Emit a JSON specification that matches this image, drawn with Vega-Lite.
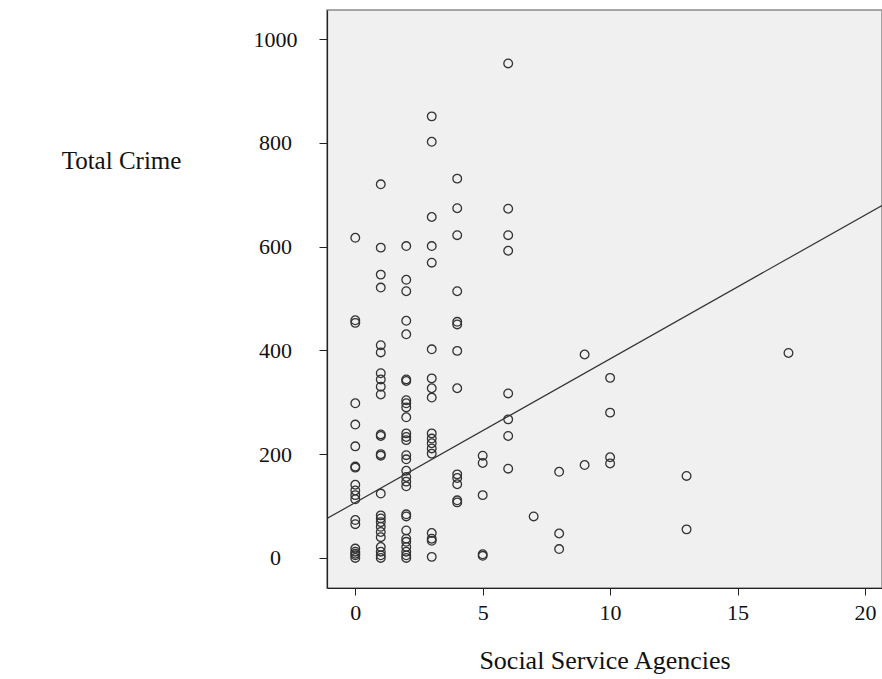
{
  "$schema": "https://vega.github.io/schema/vega-lite/v6.json",
  "autosize": {"type": "none"},
  "padding": {"left": 327, "top": 10, "right": 0, "bottom": 91},
  "width": 555,
  "height": 578,
  "background": "white",
  "config": {
    "view": {"fill": "#f0f0f0", "stroke": "#8a8a8a", "strokeWidth": 1.5},
    "font": "Liberation Serif"
  },
  "layer": [
    {
      "data": {"values": [
        {"agencies": 0, "crime": 617}, {"agencies": 0, "crime": 458}, {"agencies": 0, "crime": 453}, {"agencies": 0, "crime": 298}, {"agencies": 0, "crime": 257}, {"agencies": 0, "crime": 215}, {"agencies": 0, "crime": 176}, {"agencies": 0, "crime": 174}, {"agencies": 0, "crime": 141}, {"agencies": 0, "crime": 130}, {"agencies": 0, "crime": 121}, {"agencies": 0, "crime": 113}, {"agencies": 0, "crime": 73}, {"agencies": 0, "crime": 65}, {"agencies": 0, "crime": 18}, {"agencies": 0, "crime": 12}, {"agencies": 0, "crime": 8}, {"agencies": 0, "crime": 5}, {"agencies": 0, "crime": 0},
        {"agencies": 1, "crime": 720}, {"agencies": 1, "crime": 598}, {"agencies": 1, "crime": 546}, {"agencies": 1, "crime": 521}, {"agencies": 1, "crime": 410}, {"agencies": 1, "crime": 396}, {"agencies": 1, "crime": 356}, {"agencies": 1, "crime": 344}, {"agencies": 1, "crime": 330}, {"agencies": 1, "crime": 315}, {"agencies": 1, "crime": 238}, {"agencies": 1, "crime": 235}, {"agencies": 1, "crime": 200}, {"agencies": 1, "crime": 197}, {"agencies": 1, "crime": 124}, {"agencies": 1, "crime": 82}, {"agencies": 1, "crime": 76}, {"agencies": 1, "crime": 69}, {"agencies": 1, "crime": 60}, {"agencies": 1, "crime": 50}, {"agencies": 1, "crime": 40}, {"agencies": 1, "crime": 21}, {"agencies": 1, "crime": 12}, {"agencies": 1, "crime": 5}, {"agencies": 1, "crime": 0},
        {"agencies": 2, "crime": 601}, {"agencies": 2, "crime": 536}, {"agencies": 2, "crime": 514}, {"agencies": 2, "crime": 457}, {"agencies": 2, "crime": 431}, {"agencies": 2, "crime": 344}, {"agencies": 2, "crime": 341}, {"agencies": 2, "crime": 304}, {"agencies": 2, "crime": 298}, {"agencies": 2, "crime": 290}, {"agencies": 2, "crime": 271}, {"agencies": 2, "crime": 240}, {"agencies": 2, "crime": 233}, {"agencies": 2, "crime": 227}, {"agencies": 2, "crime": 198}, {"agencies": 2, "crime": 190}, {"agencies": 2, "crime": 168}, {"agencies": 2, "crime": 156}, {"agencies": 2, "crime": 147}, {"agencies": 2, "crime": 138}, {"agencies": 2, "crime": 84}, {"agencies": 2, "crime": 80}, {"agencies": 2, "crime": 53}, {"agencies": 2, "crime": 37}, {"agencies": 2, "crime": 31}, {"agencies": 2, "crime": 21}, {"agencies": 2, "crime": 12}, {"agencies": 2, "crime": 5}, {"agencies": 2, "crime": 0},
        {"agencies": 3, "crime": 851}, {"agencies": 3, "crime": 802}, {"agencies": 3, "crime": 657}, {"agencies": 3, "crime": 601}, {"agencies": 3, "crime": 569}, {"agencies": 3, "crime": 402}, {"agencies": 3, "crime": 346}, {"agencies": 3, "crime": 327}, {"agencies": 3, "crime": 309}, {"agencies": 3, "crime": 240}, {"agencies": 3, "crime": 230}, {"agencies": 3, "crime": 221}, {"agencies": 3, "crime": 211}, {"agencies": 3, "crime": 201}, {"agencies": 3, "crime": 48}, {"agencies": 3, "crime": 37}, {"agencies": 3, "crime": 33}, {"agencies": 3, "crime": 2},
        {"agencies": 4, "crime": 731}, {"agencies": 4, "crime": 674}, {"agencies": 4, "crime": 622}, {"agencies": 4, "crime": 514}, {"agencies": 4, "crime": 455}, {"agencies": 4, "crime": 450}, {"agencies": 4, "crime": 399}, {"agencies": 4, "crime": 327}, {"agencies": 4, "crime": 161}, {"agencies": 4, "crime": 154}, {"agencies": 4, "crime": 142}, {"agencies": 4, "crime": 111}, {"agencies": 4, "crime": 107},
        {"agencies": 5, "crime": 197}, {"agencies": 5, "crime": 183}, {"agencies": 5, "crime": 121}, {"agencies": 5, "crime": 7}, {"agencies": 5, "crime": 4},
        {"agencies": 6, "crime": 953}, {"agencies": 6, "crime": 673}, {"agencies": 6, "crime": 622}, {"agencies": 6, "crime": 592}, {"agencies": 6, "crime": 317}, {"agencies": 6, "crime": 267}, {"agencies": 6, "crime": 235}, {"agencies": 6, "crime": 172},
        {"agencies": 7, "crime": 80},
        {"agencies": 8, "crime": 166}, {"agencies": 8, "crime": 47}, {"agencies": 8, "crime": 17},
        {"agencies": 9, "crime": 392}, {"agencies": 9, "crime": 179},
        {"agencies": 10, "crime": 347}, {"agencies": 10, "crime": 280}, {"agencies": 10, "crime": 194}, {"agencies": 10, "crime": 182},
        {"agencies": 13, "crime": 158}, {"agencies": 13, "crime": 55},
        {"agencies": 17, "crime": 395}
      ]},
      "mark": {"type": "point", "shape": "circle", "filled": false, "size": 75, "stroke": "#333333", "strokeWidth": 1.3, "opacity": 1},
      "encoding": {
        "x": {"field": "agencies", "type": "quantitative",
          "scale": {"domain": [-1.11, 20.67], "nice": false, "zero": false},
          "axis": {"values": [0, 5, 10, 15, 20], "format": "d", "title": "Social Service Agencies", "grid": false,
            "domainColor": "#222222", "domainWidth": 1.2, "tickColor": "#222222", "tickSize": 7,
            "labelFont": "Liberation Serif", "labelFontSize": 22, "labelColor": "#111111", "labelPadding": 7,
            "titleFont": "Liberation Serif", "titleFontSize": 26, "titleFontWeight": "normal", "titleColor": "#111111", "titlePadding": 24}},
        "y": {"field": "crime", "type": "quantitative",
          "scale": {"domain": [-58, 1056], "nice": false, "zero": false},
          "axis": {"values": [0, 200, 400, 600, 800, 1000], "format": "d", "title": "Total Crime", "grid": false,
            "domainColor": "#222222", "domainWidth": 1.2, "tickColor": "#222222", "tickSize": 8,
            "labelFont": "Liberation Serif", "labelFontSize": 22, "labelColor": "#111111", "labelAlign": "center", "labelBaseline": "middle", "labelPadding": 44,
            "titleFont": "Liberation Serif", "titleFontSize": 25, "titleFontWeight": "normal", "titleColor": "#111111",
            "titleAngle": 0, "titleAlign": "center", "titleBaseline": "middle", "titleX": -206, "titleY": 150}}
      }
    },
    {
      "data": {"values": [{"agencies": -1.11, "crime": 75.9}, {"agencies": 20.67, "crime": 679.2}]},
      "mark": {"type": "line", "color": "#333333", "strokeWidth": 1.2, "clip": true},
      "encoding": {
        "x": {"field": "agencies", "type": "quantitative"},
        "y": {"field": "crime", "type": "quantitative"}
      }
    }
  ]
}
